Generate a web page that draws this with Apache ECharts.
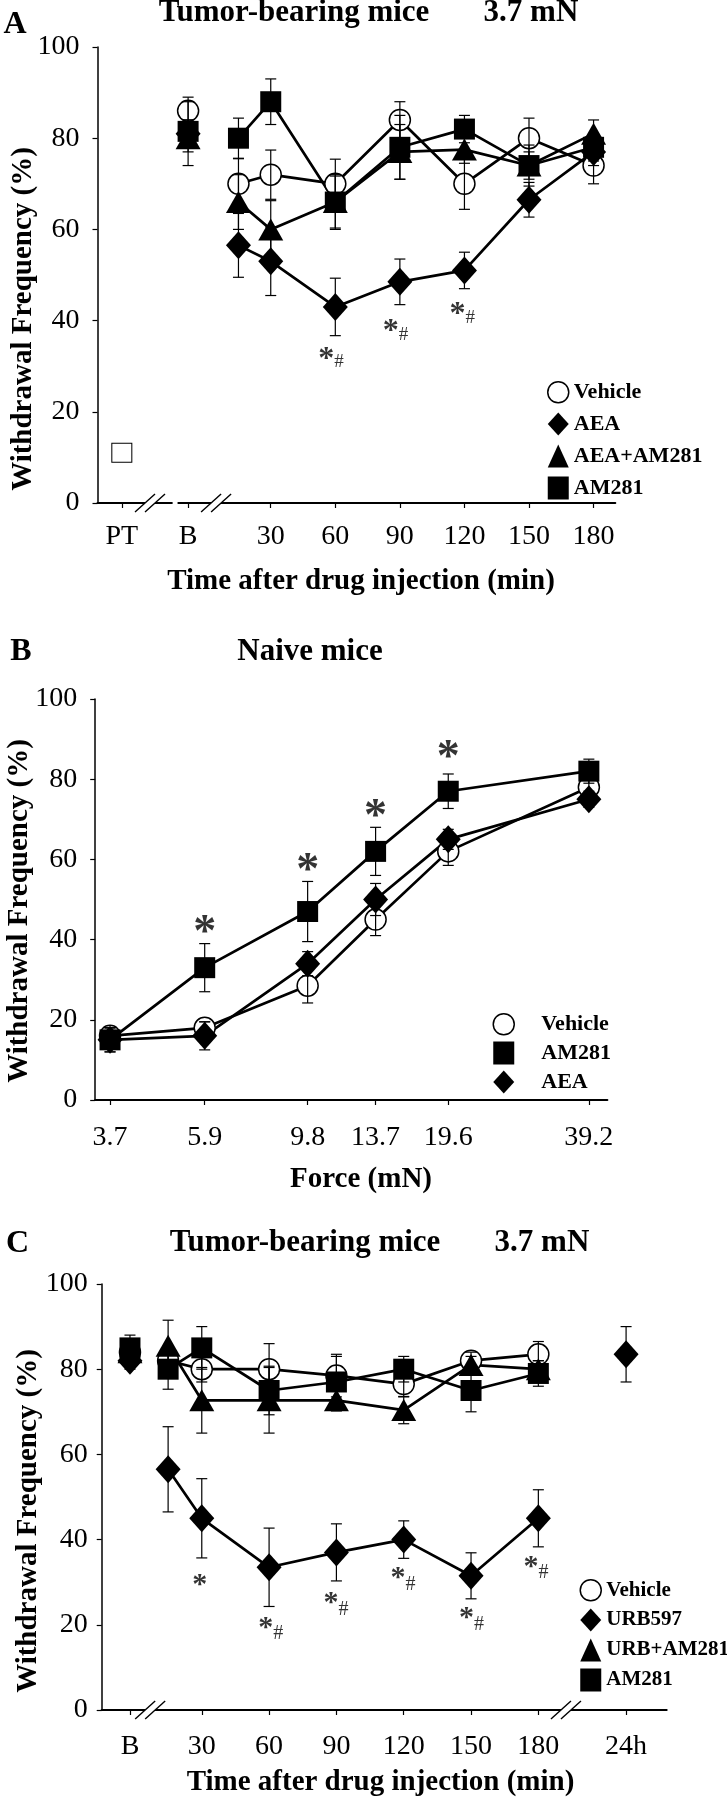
<!DOCTYPE html>
<html><head><meta charset="utf-8">
<script src="https://cdn.jsdelivr.net/npm/echarts@6/dist/echarts.min.js"></script>
<style>html,body{margin:0;padding:0;background:#fff}#c{width:727px;height:1800px}</style>
</head><body><div id="c"></div>
<script>
// ================= DATA =================
// ---- Panel A: tumor-bearing mice, 3.7 mN (AEA study) ----
const A_tickPos    = [-39.2, -8.4, 30, 60, 90, 120, 150, 180];
const A_tickLabels = ['PT', 'B', '30', '60', '90', '120', '150', '180'];
const A_baseX = -8.4;                 // position of "B" (baseline)
const A_ptX = -39.2, A_ptValue = 11;  // pre-tumor (PT) value
const A_times = [15, 30, 60, 90, 120, 150, 180];
const A_vehicle      = [70, 72, 70, 84, 70, 80, 74];
const A_vehicleErr   = [5.5, 5.4, 5.4, 4, 5.6, 4.4, 4];
const A_vehicleB     = [86, 2];
const A_aea          = [56.5, 53, 43, 48.5, 51, 66.5, 77];
const A_aeaErr       = [7, 7.5, 6.3, 5, 4, 3.8, 3];
const A_aeaB         = [81, 3];
const A_aeaAm        = [66, 60, 66, 77, 77.5, 74, 81];
const A_aeaAmErr     = [6, 6.3, 6, 6, 3, 3, 3];
const A_aeaAmB       = [80, 3];
const A_am           = [80, 88, 66, 78, 82, 74, 78];
const A_amErr        = [4.4, 5, 5.7, 7, 3, 4.5, 3];
const A_amB          = [81.5, 7.5];
const A_breaks       = [-26.1, 4.6];
const A_gap          = [-15.6, -13.3];
const A_starX        = [58, 88, 119];
const A_starY        = [31.5, 37.6, 41.2];
const A_starText     = ['*#', '*#', '*#'];

// ---- Panel B: naive mice, force series ----
const B_forces  = [3.7, 5.9, 9.8, 13.7, 19.6, 39.2];
const B_vehicle = [16, 18, 28.5, 45, 62, 78];
const B_vehicleErr = [2, 1.5, 4.3, 4, 3.5, 2];
const B_am      = [15, 33, 47, 62, 77, 82];
const B_amErr   = [3, 6, 7.5, 6, 4.3, 3];
const B_aea     = [15, 16, 34, 50, 65, 75];
const B_aeaErr  = [3, 3.5, 3, 4, 2.5, 2];
const B_starX   = [5.9, 9.8, 13.7, 19.6];
const B_starY   = [41.3, 56.9, 70.3, 84.9];

// ---- Panel C: tumor-bearing mice, 3.7 mN (URB597 study) ----
const C_tickPos    = [-2, 30, 60, 90, 120, 150, 180, 219.1];
const C_tickLabels = ['B', '30', '60', '90', '120', '150', '180', '24h'];
const C_baseX = -2, C_24hX = 219.1;
const C_times = [15, 30, 60, 90, 120, 150, 180];
const C_vehicle    = [82, 80, 80, 78.5, 76.5, 82, 83.5];
const C_vehicleErr = [3, 3, 6, 5, 3, 2, 3];
const C_vehicleB   = [84, 3];
const C_urb        = [56.5, 45, 33.5, 37, 40, 31.5, 45];
const C_urbErr     = [10, 9.3, 9.2, 6.7, 4.4, 5.4, 6.7];
const C_urbB       = [82, 2];
const C_urb24h     = [83.5, 6.5];
const C_urbAm      = [85.5, 72.7, 72.7, 72.7, 70.4, 81, 80];
const C_urbAmErr   = [6, 7.7, 7.7, 2.5, 3.2, 2, 2];
const C_urbAmB     = [84, 3];
const C_am         = [80, 85, 75, 77, 80, 75, 79];
const C_amErr      = [4.7, 5, 5.7, 6, 3, 5, 3];
const C_amB        = [85, 3];
const C_breaks     = [7, 192.3];
const C_starX      = [29.1, 60.7, 89.8, 119.7, 150.2, 178.9];
const C_starY      = [29.3, 19.2, 25, 30.9, 21.5, 33.6];
const C_starText   = ['*', '*#', '*#', '*#', '*#', '*#'];

// ================= STYLE =================
const FONT = '"Liberation Serif","Times New Roman",serif';
const SYM = {
  circle:   { symbol: 'circle',   size: 21,       fill: '#fff', bw: 1.5 },
  diamond:  { symbol: 'diamond',  size: [25, 28], fill: '#000', bw: 0 },
  triangle: { symbol: 'triangle', size: [25, 22], fill: '#000', bw: 0 },
  square:   { symbol: 'rect',     size: 21,       fill: '#000', bw: 0 }
};

function mkLine(name, gi, xs, ys, st) {
  return { type: 'line', name, xAxisIndex: gi, yAxisIndex: gi,
    data: xs.map((x, i) => [x, ys[i]]),
    symbol: st.symbol, symbolSize: st.size, showAllSymbol: true,
    itemStyle: { color: st.fill, borderColor: '#000', borderWidth: st.bw },
    lineStyle: { color: '#000', width: 2.7 },
    emphasis: { disabled: true }, z: 3, animation: false };
}
function mkPts(name, gi, pts, st) {
  return { type: 'scatter', name, xAxisIndex: gi, yAxisIndex: gi, data: pts,
    symbol: st.symbol, symbolSize: st.size,
    itemStyle: { color: st.fill, borderColor: '#000', borderWidth: st.bw, opacity: 1 },
    emphasis: { disabled: true }, z: 3, animation: false };
}
function errRender(params, api) {
  const x = api.value(0), y = api.value(1), e = api.value(2);
  const t = api.coord([x, y + e]), b = api.coord([x, y - e]);
  const h = 5.5, s = { stroke: '#000', lineWidth: 1.2 };
  return { type: 'group', children: [
    { type: 'line', shape: { x1: t[0], y1: t[1], x2: b[0], y2: b[1] }, style: s },
    { type: 'line', shape: { x1: t[0] - h, y1: t[1], x2: t[0] + h, y2: t[1] }, style: s },
    { type: 'line', shape: { x1: b[0] - h, y1: b[1], x2: b[0] + h, y2: b[1] }, style: s }
  ]};
}
function mkErr(gi, rows) {
  return { type: 'custom', xAxisIndex: gi, yAxisIndex: gi, renderItem: errRender,
    data: rows, encode: { x: 0, y: 1 }, z: 4, silent: true, animation: false };
}
function errRows(xs, ys, es) { return xs.map((x, i) => [x, ys[i], es[i]]); }

function breakRender(params, api) {
  const kind = api.value(1);
  if (kind === 1) {
    const p1 = api.coord([api.value(0), 0]), p2 = api.coord([api.value(2), 0]);
    return { type: 'rect', shape: { x: p1[0], y: p1[1] - 3, width: p2[0] - p1[0], height: 6 }, style: { fill: '#fff' } };
  }
  const p = api.coord([api.value(0), 0]);
  const d = 5, sx = 10, sy = 9;
  const s = { stroke: '#000', lineWidth: 1.4 };
  return { type: 'group', children: [
    { type: 'polygon', shape: { points: [[p[0] - d - 3, p[1] + 3], [p[0] - d + 3, p[1] - 3], [p[0] + d + 3, p[1] - 3], [p[0] + d - 3, p[1] + 3]] }, style: { fill: '#fff' } },
    { type: 'line', shape: { x1: p[0] - d - sx, y1: p[1] + sy, x2: p[0] - d + sx, y2: p[1] - sy }, style: s },
    { type: 'line', shape: { x1: p[0] + d - sx, y1: p[1] + sy, x2: p[0] + d + sx, y2: p[1] - sy }, style: s }
  ]};
}
function mkBreaks(gi, rows) {
  return { type: 'custom', xAxisIndex: gi, yAxisIndex: gi, renderItem: breakRender,
    data: rows, encode: { x: 0, y: 1 }, z: 5, silent: true, animation: false, clip: false };
}
function richStar(t) { return t.split('').map(c => c === '*' ? '{s|*}' : '{h|#}').join(''); }
function mkStars(gi, xs, ys, texts, starSize, hashSize, hashPad) {
  return { type: 'scatter', xAxisIndex: gi, yAxisIndex: gi, symbolSize: 1,
    itemStyle: { color: 'rgba(0,0,0,0)' }, silent: true, animation: false, z: 6,
    data: xs.map((x, i) => [x, ys[i], texts[i]]),
    label: { show: true, position: 'inside', formatter: p => richStar(p.value[2]),
      rich: { s: { fontFamily: FONT, fontWeight: 'bold', fontSize: starSize, color: '#000', verticalAlign: 'middle' },
              h: { fontFamily: FONT, fontSize: hashSize, color: '#000', padding: [hashPad, 0, 0, 0], verticalAlign: 'middle' } } } };
}

function xValueAxis(gi, min, max, ticks, labels, margin) {
  return { type: 'value', gridIndex: gi, min, max,
    axisLine: { onZero: false, lineStyle: { color: '#000', width: 2 } },
    axisTick: { show: true, customValues: ticks, length: 5, lineStyle: { color: '#000', width: 1.2 } },
    axisLabel: { customValues: ticks, margin, color: '#000', fontFamily: FONT, fontSize: 28,
      formatter: v => { const i = ticks.findIndex(t => Math.abs(t - v) < 1e-6); return i >= 0 ? labels[i] : ''; } },
    splitLine: { show: false } };
}
function yAxisDef(gi, margin) {
  return { type: 'value', gridIndex: gi, min: 0, max: 100, interval: 20,
    axisLine: { show: true, onZero: false, lineStyle: { color: '#000', width: 1.5 } },
    axisTick: { show: true, length: 5, lineStyle: { color: '#000', width: 1.2 } },
    axisLabel: { margin, color: '#000', fontFamily: FONT, fontSize: 28 },
    splitLine: { show: false } };
}
function txt(x, y, text, size, bold, rot) {
  return { type: 'text', x, y, rotation: rot || 0, silent: true,
    style: { text, fill: '#000', font: (bold ? 'bold ' : '') + size + 'px ' + FONT,
      textAlign: 'center', textVerticalAlign: 'middle', align: 'center', verticalAlign: 'middle' } };
}
function legendDef(names, icons, left, top, gap, size, spacer) {
  return { orient: 'vertical', left, top, padding: 0, itemGap: gap, itemWidth: 21, itemHeight: 23,
    selectedMode: false,
    data: names.map((n, i) => ({ name: n, icon: icons[i],
      itemStyle: icons[i] === 'circle' ? { color: '#fff', borderColor: '#000', borderWidth: 1.5 } : { color: '#000', borderWidth: 0 } })),
    formatter: n => (spacer ? '{g|}' : '') + n,
    textStyle: { fontFamily: FONT, fontWeight: 'bold', fontSize: size, color: '#000',
      rich: { g: { width: spacer || 0 } } } };
}

// ================= OPTION =================
const series = [];
// Panel A
series.push(mkLine('Vehicle', 0, A_times, A_vehicle, SYM.circle));
series.push(mkLine('AEA', 0, A_times, A_aea, SYM.diamond));
series.push(mkLine('AEA+AM281', 0, A_times, A_aeaAm, SYM.triangle));
series.push(mkLine('AM281', 0, A_times, A_am, SYM.square));
series.push(mkPts('Vehicle', 0, [[A_baseX, A_vehicleB[0]]], SYM.circle));
series.push(mkPts('AEA', 0, [[A_baseX, A_aeaB[0]]], SYM.diamond));
series.push(mkPts('AEA+AM281', 0, [[A_baseX, A_aeaAmB[0]]], SYM.triangle));
series.push(mkPts('AM281', 0, [[A_baseX, A_amB[0]]], SYM.square));
series.push(mkPts('PT', 0, [[A_ptX, A_ptValue]], { symbol: 'rect', size: [20, 19], fill: '#fff', bw: 1 }));
series.push(mkErr(0, [].concat(
  errRows(A_times, A_vehicle, A_vehicleErr), errRows(A_times, A_aea, A_aeaErr),
  errRows(A_times, A_aeaAm, A_aeaAmErr), errRows(A_times, A_am, A_amErr),
  [[A_baseX, A_vehicleB[0], A_vehicleB[1]], [A_baseX, A_aeaB[0], A_aeaB[1]],
   [A_baseX, A_aeaAmB[0], A_aeaAmB[1]], [A_baseX, A_amB[0], A_amB[1]]])));
series.push(mkBreaks(0, A_breaks.map(b => [b, 0, 0]).concat([[A_gap[0], 1, A_gap[1]]])));
series.push(mkStars(0, A_starX, A_starY, A_starText, 32, 19, 6));
// Panel B
series.push(mkLine('Vehicle', 1, B_forces, B_vehicle, SYM.circle));
series.push(mkLine('AEA', 1, B_forces, B_aea, SYM.diamond));
series.push(mkLine('AM281', 1, B_forces, B_am, SYM.square));
series.push(mkErr(1, [].concat(errRows(B_forces, B_vehicle, B_vehicleErr),
  errRows(B_forces, B_am, B_amErr), errRows(B_forces, B_aea, B_aeaErr))));
series.push(mkStars(1, B_starX, B_starY, B_starX.map(() => '*'), 46, 19, 0));
// Panel C
series.push(mkLine('Vehicle', 2, C_times, C_vehicle, SYM.circle));
series.push(mkLine('URB597', 2, C_times, C_urb, SYM.diamond));
series.push(mkLine('URB+AM281', 2, C_times, C_urbAm, SYM.triangle));
series.push(mkLine('AM281', 2, C_times, C_am, SYM.square));
series.push(mkPts('Vehicle', 2, [[C_baseX, C_vehicleB[0]]], SYM.circle));
series.push(mkPts('URB+AM281', 2, [[C_baseX, C_urbAmB[0]]], SYM.triangle));
series.push(mkPts('AM281', 2, [[C_baseX, C_amB[0]]], SYM.square));
series.push(mkPts('URB597', 2, [[C_baseX, C_urbB[0]], [C_24hX, C_urb24h[0]]], SYM.diamond));
series.push(mkErr(2, [].concat(
  errRows(C_times, C_vehicle, C_vehicleErr), errRows(C_times, C_urb, C_urbErr),
  errRows(C_times, C_urbAm, C_urbAmErr), errRows(C_times, C_am, C_amErr),
  [[C_baseX, C_vehicleB[0], C_vehicleB[1]], [C_baseX, C_urbB[0], C_urbB[1]],
   [C_baseX, C_urbAmB[0], C_urbAmB[1]], [C_baseX, C_amB[0], C_amB[1]],
   [C_24hX, C_urb24h[0], C_urb24h[1]]])));
series.push(mkBreaks(2, C_breaks.map(b => [b, 0, 0])));
series.push(mkStars(2, C_starX, C_starY, C_starText, 30, 20, 12));

const option = {
  backgroundColor: '#fff',
  animation: false,
  grid: [
    { left: 97.5, top: 47, width: 517.8, height: 456 },
    { left: 95.2, top: 699, width: 512.2, height: 401 },
    { left: 101.7, top: 1284, width: 565, height: 426 }
  ],
  xAxis: [
    xValueAxis(0, -50.5, 190.1, A_tickPos, A_tickLabels, 20),
    { type: 'log', logBase: 10, gridIndex: 1, min: 3.439, max: 42.95,
      axisLine: { onZero: false, lineStyle: { color: '#000', width: 2 } },
      axisTick: { show: true, customValues: B_forces, length: 5, lineStyle: { color: '#000', width: 1.2 } },
      axisLabel: { customValues: B_forces, margin: 24, color: '#000', fontFamily: FONT, fontSize: 28,
        formatter: v => Number(v).toFixed(1) },
      splitLine: { show: false }, minorTick: { show: false } },
    xValueAxis(2, -14.6, 237.2, C_tickPos, C_tickLabels, 23)
  ],
  yAxis: [yAxisDef(0, 18), yAxisDef(1, 18), yAxisDef(2, 14)],
  legend: [
    legendDef(['Vehicle', 'AEA', 'AEA+AM281', 'AM281'], ['circle', 'diamond', 'triangle', 'rect'], 547, 381, 9, 22, 0),
    legendDef(['Vehicle', 'AM281', 'AEA'], ['circle', 'rect', 'diamond'], 492.5, 1013, 6, 22, 22),
    legendDef(['Vehicle', 'URB597', 'URB+AM281', 'AM281'], ['circle', 'diamond', 'triangle', 'rect'], 579.5, 1579, 7, 21, 0)
  ],
  graphic: [
    txt(15, 25, 'A', 32, true),
    txt(368.5, 13, 'Tumor-bearing mice       3.7 mN', 31, true),
    txt(361, 582, 'Time after drug injection (min)', 29, true),
    txt(23.2, 319, 'Withdrawal Frequency (%)', 29, true, Math.PI / 2),
    txt(21, 652, 'B', 32, true),
    txt(310, 652, 'Naive mice', 31, true),
    txt(361, 1180, 'Force (mN)', 29, true),
    txt(19.5, 911, 'Withdrawal Frequency (%)', 29, true, Math.PI / 2),
    txt(17.5, 1244, 'C', 32, true),
    txt(379.5, 1243, 'Tumor-bearing mice       3.7 mN', 31, true),
    txt(380.5, 1783, 'Time after drug injection (min)', 29, true),
    txt(29, 1521, 'Withdrawal Frequency (%)', 29, true, Math.PI / 2)
  ],
  series
};
const chart = echarts.init(document.getElementById('c'), null, { renderer: 'canvas' });
chart.setOption(option);
</script>
</body></html>
